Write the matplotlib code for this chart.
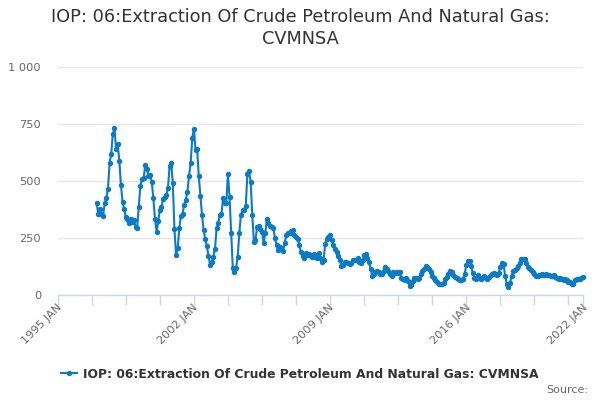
import matplotlib
matplotlib.use("Agg")
import matplotlib.pyplot as plt
from matplotlib.lines import Line2D
import matplotlib.transforms as mtransforms

# Monthly values, 1997 JAN onward
seg_1997_2001 = [405, 354, 376, 355, 348, 402, 424, 465, 578, 617, 705, 731, 639, 661, 588,
                 482, 409, 376, 341, 332, 316, 332, 318, 330, 297, 293, 387, 479, 507, 511,
                 570, 551, 522, 526, 497, 424, 332, 278, 322, 373, 385, 420, 428, 439, 468,
                 563, 578, 490, 289, 175, 205, 292, 348, 355, 395, 417, 453]
seg_2001_2006 = [522, 578, 687, 728, 636, 640, 522, 434, 351, 285, 244, 215, 172, 132, 146,
                 168, 200, 292, 317, 351, 354, 424, 402, 402, 531, 428, 270, 117, 99, 117,
                 165, 270, 351, 373, 373, 390, 531, 541, 497, 351, 234, 241, 300, 303, 288,
                 278, 227, 270, 332, 317, 303, 297, 293, 249, 219, 197, 209, 200, 194, 227, 263]
seg_2006_2011 = [271, 273, 282, 283, 265, 256, 245, 218, 190, 170, 160, 182, 177, 180, 170,
                 168, 180, 168, 164, 182, 160, 146, 154, 225, 247, 255, 261, 240, 217, 200,
                 187, 173, 153, 128, 130, 144, 144, 140, 136, 138, 152, 155, 153, 160, 144,
                 140, 152, 176, 181, 160, 144, 114, 82, 90, 102, 105, 102, 90]
seg_2011_2016 = [92, 106, 122, 115, 105, 94, 84, 102, 98, 102, 98, 102, 73, 72, 67, 75, 60,
                 40, 45, 62, 76, 76, 71, 76, 92, 105, 115, 125, 124, 114, 102, 85, 76, 67,
                 56, 48, 50, 48, 52, 69, 80, 94, 106, 99, 89, 80, 74, 70, 65, 65, 70, 92,
                 130, 150, 150, 128, 96, 75, 70]
seg_2016_2022 = [86, 76, 70, 75, 82, 76, 70, 81, 88, 92, 98, 92, 88, 97, 124, 138, 135, 82,
                 50, 34, 52, 85, 104, 110, 119, 126, 140, 157, 157, 156, 139, 122, 117, 108,
                 99, 93, 85, 83, 87, 88, 91, 89, 91, 89, 86, 83, 85, 86, 79, 74, 68, 74, 72,
                 67, 68, 65, 58, 56, 50, 50, 64, 71, 71, 71, 73, 79]

values = seg_1997_2001 + seg_2001_2006 + seg_2006_2011 + seg_2011_2016 + seg_2016_2022
start_month = 24  # months after 1995 JAN (1997 JAN)
months = [start_month + i for i in range(len(values))]

x_label_texts = ["1995 JAN", "2002 JAN", "2009 JAN", "2016 JAN", "2022 JAN"]
x_label_months = [0, 84, 168, 252, 324]
x_tick_months = list(range(0, 324, 21)) + [324]
y_ticks = [0, 250, 500, 750, 1000]
y_tick_labels = ["0", "250", "500", "750", "1 000"]

title = "IOP: 06:Extraction Of Crude Petroleum And Natural Gas:\nCVMNSA"
series_name = "IOP: 06:Extraction Of Crude Petroleum And Natural Gas: CVMNSA"

line_color = "#0d7bc4"
axis_color = "#ccd6eb"
grid_color = "#e6e6e6"

W, H = 600, 400
fig = plt.figure(figsize=(6, 4), dpi=100)
left, right, bottom, top = 57.7, 583, 295, 66.7
ax = fig.add_axes([left / W, 1 - bottom / H, (right - left) / W, (bottom - top) / H])

ax.plot(months, values, color=line_color, lw=1.5, marker="o", ms=2.9,
        mec=line_color, mfc=line_color, zorder=3, clip_on=False)

ax.set_xlim(0, 324)
ax.set_ylim(0, 1000)

for s in ["top", "right", "left"]:
    ax.spines[s].set_visible(False)
ax.spines["bottom"].set_color(axis_color)
ax.spines["bottom"].set_linewidth(1)

ax.set_yticks(y_ticks)
ax.set_yticklabels(y_tick_labels)
ax.tick_params(axis="y", length=0, pad=12, labelsize=8.2, labelcolor="#666666")
ax.yaxis.grid(True, color=grid_color, lw=1)
ax.set_axisbelow(True)

ax.set_xticks(x_tick_months)
ax.set_xticklabels(["" for _ in x_tick_months])
ax.tick_params(axis="x", length=7.2, width=1, color=axis_color, direction="out")

offset = mtransforms.ScaledTranslation(-1 / 100, -7 / 100, fig.dpi_scale_trans)
for m, t in zip(x_label_months, x_label_texts):
    ax.text(m, 0, t, transform=ax.get_xaxis_transform() + offset, rotation=45,
            ha="right", va="top", rotation_mode="anchor", fontsize=8.2, color="#666666")

fig.text(0.5, 1 - 28 / H, title, ha="center", va="center", fontsize=12.8,
         color="#333333", linespacing=1.22)

handle = Line2D([], [], color=line_color, lw=1.5, marker="o", ms=2.9)
fig.legend([handle], [series_name], loc="center", bbox_to_anchor=(0.5, 1 - 374 / H),
           frameon=False, handlelength=1.3, handletextpad=0.45, numpoints=1,
           prop={"weight": "bold", "size": 8.9}, labelcolor="#333333")

fig.text(588 / W, 1 - 390 / H, "Source:", ha="right", va="center", fontsize=8,
         color="#666666")

fig.savefig("out.png", dpi=100)
